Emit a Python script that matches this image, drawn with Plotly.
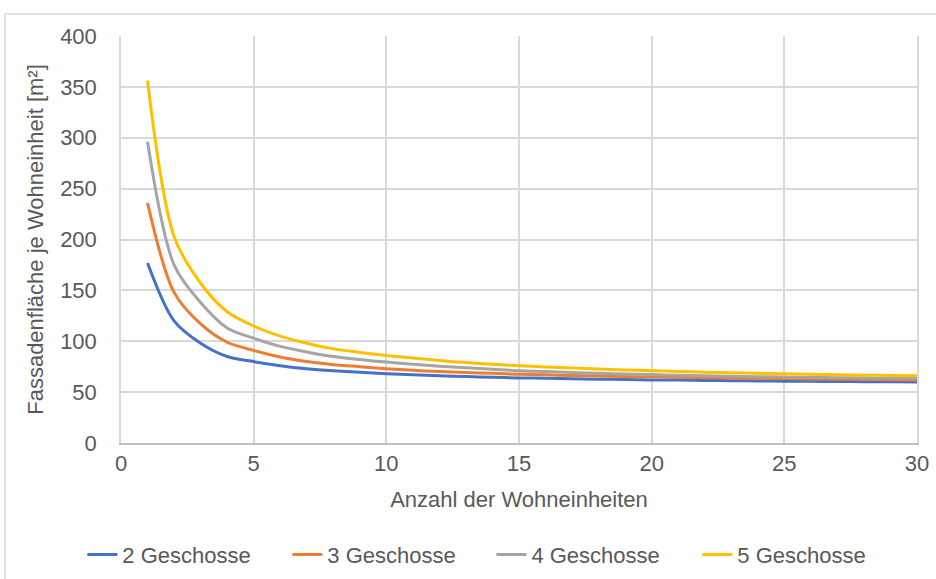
import plotly.graph_objects as go

# Anzahl der Wohneinheiten
units = list(range(1, 31))

# Fassadenfläche je Wohneinheit [m²] je Geschosszahl
g2 = [177, 120, 98, 85, 80, 76, 73, 71, 69.5, 68, 67, 66, 65.3, 64.6, 64,
      63.6, 63.1, 62.7, 62.4, 62, 61.8, 61.5, 61.3, 61, 60.8, 60.6, 60.5, 60.3, 60.2, 60]
g3 = [236, 148, 117, 99, 91, 84.5, 80, 77, 75, 73, 71.5, 70.3, 69.3, 68.5, 67.5,
      67, 66.4, 65.8, 65.4, 65, 64.6, 64.2, 63.9, 63.6, 63.3, 63, 62.7, 62.4, 62.2, 62]
g4 = [296, 175, 138, 113, 103, 95, 89.5, 85, 82, 79.5, 77.5, 75.5, 74, 72.5, 71,
      70.2, 69.3, 68.5, 67.8, 67.2, 66.6, 66.1, 65.6, 65.2, 64.8, 64.5, 64.2, 63.9, 63.6, 63.4]
g5 = [356, 203, 157, 129, 115, 105, 98, 92.5, 89, 86, 83.5, 81, 79, 77.5, 76,
      74.8, 73.7, 72.7, 71.8, 71, 70.3, 69.6, 69, 68.5, 68, 67.5, 67.1, 66.7, 66.3, 66]

series_names = ["2 Geschosse", "3 Geschosse", "4 Geschosse", "5 Geschosse"]
series_values = [g2, g3, g4, g5]
series_colors = ["#4472C4", "#ED7D31", "#A5A5A5", "#FFC000"]

FONT = "Liberation Sans, Arial, sans-serif"
TEXT = "#595959"
GRID = "#d9d9d9"
FS = 22

# one legend box per series so the four entries sit in a single row
legend_ids = ["legend", "legend2", "legend3", "legend4"]
legend_x = [0.088, 0.307, 0.525, 0.745]

fig = go.Figure()
for name, vals, col, lid in zip(series_names, series_values, series_colors, legend_ids):
    fig.add_trace(go.Scatter(
        x=units, y=vals, name=name, mode="lines", legend=lid,
        line=dict(color=col, width=3, shape="spline", smoothing=0.9),
    ))

# outer chart frame
fig.add_shape(type="rect", xref="paper", yref="paper",
              x0=-0.1457, x1=1.2, y0=-0.6, y1=1.054,
              line=dict(color=GRID, width=1.5), fillcolor="rgba(0,0,0,0)", layer="below")

legend_style = dict(orientation="h", xref="container", yref="container",
                    xanchor="left", y=0.042, yanchor="middle",
                    font=dict(size=FS, color=TEXT), itemwidth=30,
                    bgcolor="rgba(0,0,0,0)")

fig.update_layout(
    width=936, height=579,
    margin=dict(l=121, r=19, t=36, b=136, autoexpand=False),
    paper_bgcolor="white", plot_bgcolor="white",
    font=dict(family=FONT, size=FS, color=TEXT),
    showlegend=True,
    xaxis=dict(range=[0, 30], tickvals=[0, 5, 10, 15, 20, 25, 30],
               showgrid=True, gridcolor=GRID, gridwidth=1.5,
               showline=True, linecolor="#bfbfbf", linewidth=2,
               zeroline=False, ticks="", ticklabelstandoff=0,
               title=dict(text="Anzahl der Wohneinheiten", standoff=16,
                          font=dict(size=FS, color=TEXT))),
    yaxis=dict(range=[0, 400], tickvals=[0, 50, 100, 150, 200, 250, 300, 350, 400],
               showgrid=True, gridcolor=GRID, gridwidth=1.5,
               showline=True, linecolor=GRID, linewidth=1.5, mirror=True,
               zeroline=False, ticks="", ticklabelstandoff=18,
               title=dict(text="Fassadenfläche je Wohneinheit [m²]", standoff=10,
                          font=dict(size=FS, color=TEXT))),
)
for lid, lx in zip(legend_ids, legend_x):
    fig.update_layout({lid: dict(legend_style, x=lx)})

fig.write_html("out.html")
